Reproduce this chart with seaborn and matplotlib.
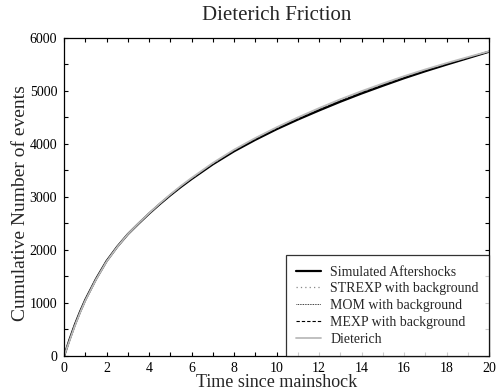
import numpy as np
import pandas as pd
import matplotlib
matplotlib.use("Agg")
import matplotlib.pyplot as plt
import seaborn as sns
from matplotlib.ticker import MultipleLocator

# values
t = [0, 0.25, 0.5, 0.75, 1, 1.5, 2, 2.5, 3, 3.5, 4, 4.5, 5, 5.5, 6, 7, 8, 9,
     10, 11, 12, 13, 14, 15, 16, 17, 18, 19, 20]
simulated = [0, 305, 585, 835, 1062, 1452, 1792, 2062, 2298, 2496, 2686, 2864,
             3032, 3190, 3338, 3616, 3862, 4078, 4278, 4460, 4632, 4797, 4952,
             5098, 5240, 5372, 5497, 5618, 5740]
strexp = [0, 302, 582, 832, 1060, 1450, 1790, 2060, 2300, 2500, 2690, 2870,
          3040, 3200, 3350, 3630, 3880, 4100, 4300, 4485, 4660, 4825, 4980,
          5125, 5265, 5395, 5515, 5630, 5742]
mom = [0, 303, 583, 833, 1061, 1451, 1791, 2061, 2300, 2500, 2690, 2869,
       3039, 3199, 3349, 3628, 3877, 4096, 4296, 4480, 4655, 4820, 4975,
       5120, 5260, 5390, 5511, 5627, 5742]
mexp = [0, 304, 584, 834, 1061, 1451, 1791, 2061, 2299, 2498, 2688, 2867,
        3036, 3195, 3344, 3622, 3870, 4088, 4288, 4471, 4645, 4810, 4965,
        5110, 5251, 5382, 5505, 5623, 5741]
dieterich = [0, 285, 565, 818, 1048, 1440, 1782, 2056, 2298, 2502, 2694, 2876,
             3048, 3210, 3360, 3642, 3892, 4112, 4314, 4500, 4676, 4842, 4996,
             5140, 5278, 5406, 5525, 5638, 5748]

labels = ["Simulated Aftershocks", "STREXP with background", "MOM with background",
          "MEXP with background", "Dieterich"]

sns.set_style("ticks")
plt.rcParams["font.family"] = ["Liberation Serif", "DejaVu Serif"]

fig = plt.figure(figsize=(4.97, 3.91), dpi=100)
ax = fig.add_axes([0.129, 0.0895, 0.855, 0.8135])

series = [simulated, strexp, mom, mexp, dieterich]
styles = [
    dict(color="black", linewidth=1.6, linestyle="-"),
    dict(color="#888888", linewidth=0.9, linestyle=(0, (1, 2.5))),
    dict(color="black", linewidth=0.6, linestyle=(0, (1, 1))),
    dict(color="black", linewidth=0.8, linestyle=(0, (3, 1.8))),
    dict(color="#bbbbbb", linewidth=1.3, linestyle="-"),
]
for ys, lab, st in zip(series, labels, styles):
    df = pd.DataFrame({"t": t, "n": ys})
    sns.lineplot(data=df, x="t", y="n", ax=ax, label=lab, **st)

ax.set_xlim(0, 20)
ax.set_ylim(0, 6000)
ax.xaxis.set_major_locator(MultipleLocator(2))
ax.xaxis.set_minor_locator(MultipleLocator(1))
ax.yaxis.set_major_locator(MultipleLocator(1000))
ax.yaxis.set_minor_locator(MultipleLocator(500))
ax.tick_params(which="both", direction="in", top=True, right=True,
               length=3, width=0.8, labelsize=10, colors="black")
ax.tick_params(axis="x", pad=4)
ax.tick_params(axis="y", pad=5)
for s in ax.spines.values():
    s.set_color("black")
    s.set_linewidth(0.9)

ax.set_xlabel("Time since mainshock", fontsize=13)
ax.set_ylabel("Cumulative Number of events", fontsize=14)
ax.xaxis.set_label_coords(0.5, -0.058)
ax.yaxis.set_label_coords(-0.082, 0.481)
ax.set_title("Dieterich Friction", fontsize=15, pad=13)

leg = ax.legend(loc="lower right", fontsize=10, frameon=True, fancybox=False,
                borderaxespad=0, handlelength=1.8, handletextpad=0.65,
                labelspacing=0.27, borderpad=0.75)
leg.get_frame().set_edgecolor("black")
leg.get_frame().set_linewidth(0.9)

fig.savefig("out.png", dpi=100)
